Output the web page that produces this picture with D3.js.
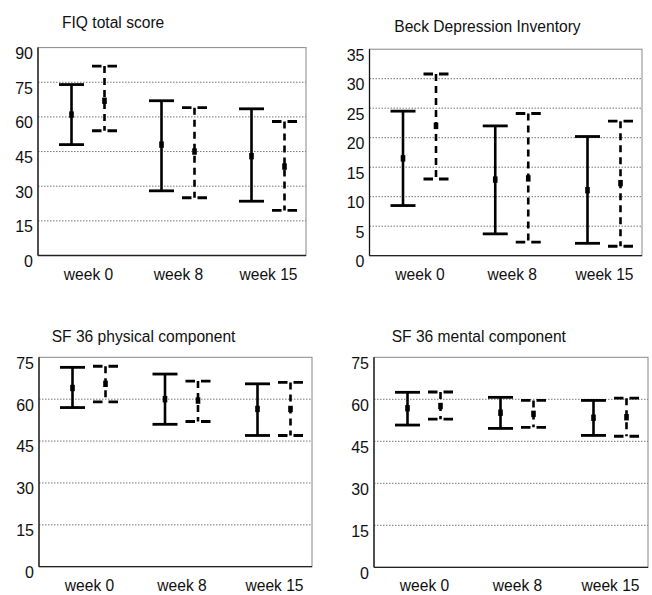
<!DOCTYPE html>
<html>
<head>
<meta charset="utf-8">
<script src="https://cdn.jsdelivr.net/npm/d3@7/dist/d3.min.js"></script>
<style>
  body { margin: 0; background: #fff; }
  svg { display: block; font-family: "Liberation Sans", Arial, sans-serif; }
</style>
</head>
<body>
<script>
'use strict';

// categories on the x axis
const categories = ["week 0", "week 8", "week 15"];

// tick labels for each panel
const fiqTicks = [0, 15, 30, 45, 60, 75, 90];
const bdiTicks = [0, 5, 10, 15, 20, 25, 30, 35];
const sfpTicks = [0, 15, 30, 45, 60, 75];
const sfmTicks = [0, 15, 30, 45, 60, 75];

// each entry is [low, mean, high] for week 0, 8, 15
const fiqSolid  = [[48, 61, 74], [28, 48, 67], [23.5, 43, 63.5]];
const fiqDashed = [[54, 67, 82], [25, 45, 64], [19.5, 38.5, 58]];
const bdiSolid  = [[8.5, 16.5, 24.5], [3.7, 12.9, 22], [2.1, 11.1, 20.2]];
const bdiDashed = [[13, 22, 30.8], [2.3, 13.1, 24.1], [1.6, 12.3, 22.8]];
const sfpSolid  = [[57, 64, 71.4], [51, 60, 69], [47, 56.5, 65.5]];
const sfpDashed = [[59, 65.5, 71.8], [52, 59.5, 66.5], [47, 56.5, 66]];
const sfmSolid  = [[50.8, 56.8, 62.5], [49.6, 55.2, 60.7], [47.1, 53.4, 59.6]];
const sfmDashed = [[52.9, 57.6, 62.6], [50, 54.8, 59.6], [46.8, 53.6, 60.4]];

const svg = d3.select("body").append("svg")
  .attr("width", 652)
  .attr("height", 595);

// panel frames (pixel boxes) and title positions
const panels = [
  {title: "FIQ total score", ticks: fiqTicks, solid: fiqSolid, dashed: fiqDashed,
   box: {l: 38, r: 306, t: 47.6, b: 255.5}, tx: 62, ty: 28.3},
  {title: "Beck Depression Inventory", ticks: bdiTicks, solid: bdiSolid, dashed: bdiDashed,
   box: {l: 369.5, r: 642, t: 49.2, b: 255.7}, tx: 394.3, ty: 31.7},
  {title: "SF 36 physical component", ticks: sfpTicks, solid: sfpSolid, dashed: sfpDashed,
   box: {l: 39, r: 312, t: 357.3, b: 566.7}, tx: 51.7, ty: 341.7},
  {title: "SF 36 mental component", ticks: sfmTicks, solid: sfmSolid, dashed: sfmDashed,
   box: {l: 374, r: 648, t: 357.3, b: 567.3}, tx: 391.7, ty: 341.7}
];

panels.forEach(drawPanel);

function drawPanel(p) {
  let g = svg.append("g");
  let box = p.box;

  let y = d3.scaleLinear()
    .domain([0, d3.max(p.ticks)])
    .range([box.b, box.t]);

  let x = d3.scalePoint()
    .domain(categories)
    .range([box.l + 50, box.r - 38]);

  // title
  g.append("text")
    .attr("x", p.tx)
    .attr("y", p.ty)
    .style("font-size", "15.6px")
    .attr("fill", "#111")
    .text(p.title);

  // gridlines (dotted)
  g.selectAll(".grid")
    .data(p.ticks.slice(1, -1))
    .enter()
    .append("line")
      .attr("x1", box.l)
      .attr("x2", box.r)
      .attr("y1", (d) => y(d))
      .attr("y2", (d) => y(d))
      .attr("stroke", "#777")
      .attr("stroke-width", 1)
      .attr("stroke-dasharray", "1.5,1.5");

  // frame: grey top/right, black left/bottom
  g.append("rect")
    .attr("x", box.l)
    .attr("y", box.t)
    .attr("width", box.r - box.l)
    .attr("height", box.b - box.t)
    .attr("fill", "none")
    .attr("stroke", "#888")
    .attr("stroke-width", 1);

  g.append("line")
    .attr("x1", box.l).attr("x2", box.l)
    .attr("y1", box.t).attr("y2", box.b)
    .attr("stroke", "#111").attr("stroke-width", 1.3);

  g.append("line")
    .attr("x1", box.l).attr("x2", box.r)
    .attr("y1", box.b).attr("y2", box.b)
    .attr("stroke", "#222").attr("stroke-width", 1.3);

  // y axis labels hang just below the grid line
  let yAxis = g.append("g")
    .attr("transform", "translate(" + box.l + ",0)")
    .call(d3.axisLeft(y).tickValues(p.ticks).tickSize(0).tickPadding(5));
  yAxis.select(".domain").remove();
  yAxis.selectAll("text")
    .attr("dy", "0.68em")
    .style("font-size", "16px")
    .style("font-family", "'Liberation Sans', Arial, sans-serif")
    .attr("fill", "#111");

  // x axis labels
  let xAxis = g.append("g")
    .attr("transform", "translate(0," + box.b + ")")
    .call(d3.axisBottom(x).tickSize(0).tickPadding(13));
  xAxis.select(".domain").remove();
  xAxis.selectAll("text")
    .style("font-size", "15.6px")
    .style("font-family", "'Liberation Sans', Arial, sans-serif")
    .attr("fill", "#111");

  drawBars(g, p.solid, x, y, -16.5, false);
  drawBars(g, p.dashed, x, y, 16.5, true);
}

function drawBars(g, series, x, y, offset, dashed) {
  let cx = (d, i) => x(categories[i]) + offset;
  let capHalf = 12.5;
  let bars = g.append("g");

  // vertical whisker
  bars.selectAll(".whisker")
    .data(series)
    .enter()
    .append("line")
      .attr("x1", cx)
      .attr("x2", cx)
      .attr("y1", (d) => y(d[2]))
      .attr("y2", (d) => y(d[0]))
      .attr("stroke", "#000")
      .attr("stroke-width", 2.6)
      .attr("stroke-dasharray", dashed ? "7,5" : null);

  // caps at low and high
  [0, 2].forEach((k) => {
    bars.selectAll(".cap" + k)
      .data(series)
      .enter()
      .append("line")
        .attr("x1", (d, i) => cx(d, i) - capHalf)
        .attr("x2", (d, i) => cx(d, i) + capHalf)
        .attr("y1", (d) => y(d[k]))
        .attr("y2", (d) => y(d[k]))
        .attr("stroke", "#000")
        .attr("stroke-width", 2.8)
        .attr("stroke-dasharray", dashed ? "9.5,6" : null);
  });

  // mean marker
  bars.selectAll(".mean")
    .data(series)
    .enter()
    .append("rect")
      .attr("x", (d, i) => cx(d, i) - 2.3)
      .attr("y", (d) => y(d[1]) - 3.2)
      .attr("width", 4.6)
      .attr("height", 6.4)
      .attr("fill", "#000");
}
</script>
</body>
</html>
